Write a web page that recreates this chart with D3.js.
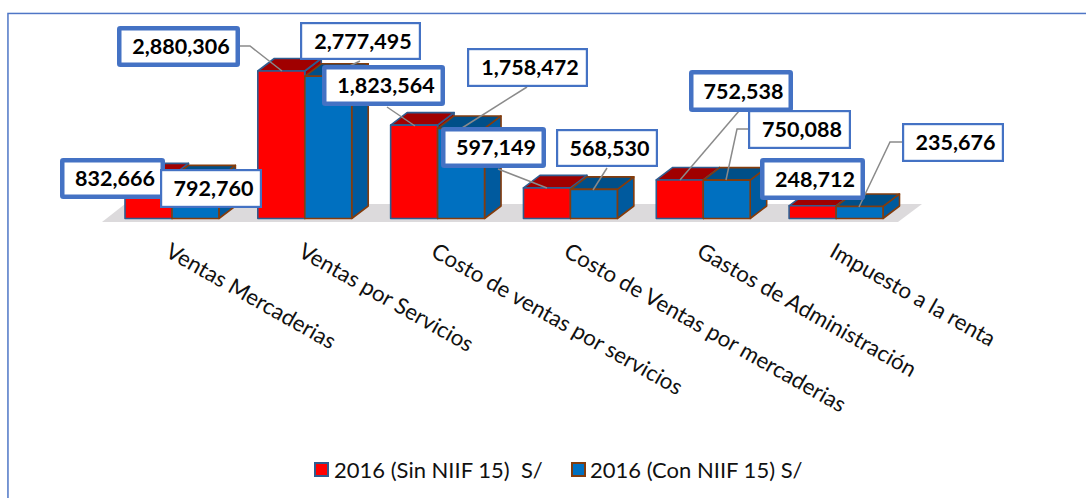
<!DOCTYPE html>
<html><head><meta charset="utf-8">
<script src="https://cdn.jsdelivr.net/npm/d3@7"></script>
<style>html,body{margin:0;padding:0;background:#fff}svg{display:block}text{font-family:Lato,"Open Sans",sans-serif}</style>
</head><body><div id="chart"></div>
<script>
const categories=["Ventas Mercaderias","Ventas por Servicios","Costo de ventas por servicios","Costo de Ventas por mercaderias","Gastos de Administración","Impuesto a la renta"];
const seriesNames=["2016 (Sin NIIF 15)  S/","2016 (Con NIIF 15) S/"];
const sinNiif=[832666,2880306,1823564,597149,752538,248712];
const conNiif=[792760,2777495,1758472,568530,750088,235676];

const W=1086,H=498,baseY=218.5,dx=16.5,dy=-12.5;
const svg=d3.select("#chart").append("svg").attr("width",W).attr("height",H);
svg.append("rect").attr("x",8.5).attr("y",14).attr("width",1100).attr("height",H).attr("fill","#fff").attr("stroke","#b9cdec").attr("stroke-width",2.6);
svg.append("rect").attr("x",8).attr("y",13.5).attr("width",1100).attr("height",H).attr("fill","#fff").attr("stroke","#4f76c6").attr("stroke-width",1.4);

const x0=d3.scaleBand().domain(categories).range([125,883]).paddingInner(0.293).paddingOuter(0);
const x1=d3.scaleBand().domain([0,1]).range([0,x0.bandwidth()]);
const y=d3.scaleLinear().domain([0,2880306]).range([baseY,71]);

// floor
const fl=x0(categories[0])-23, fr=x0(categories[5])+x0.bandwidth()+15;
svg.append("path").attr("d",`M${fl},222L${fl+23},204L${fr+24},204L${fr},222Z`).attr("fill","#dcdadc");

const styles=[{front:"#ff0000",top:"#a00000",side:"#a00000",edge:"#2f5c8f"},{front:"#0070c0",top:"#004f88",side:"#005a9e",edge:"#843c0c"}];
const rows=categories.map((c,i)=>[sinNiif[i],conNiif[i]]);
const g=svg.append("g");
categories.forEach((c,i)=>{
  [0,1].forEach(s=>{
    const v=rows[i][s],st=styles[s],xa=x0(c)+x1(s),w=x1.bandwidth(),t=y(v),b=y(0);
    const a=g.append("g").attr("stroke",st.edge).attr("stroke-width",1.6).attr("stroke-linejoin","round");
    a.append("path").attr("d",`M${xa+w},${b}L${xa+w+dx},${b+dy}L${xa+w+dx},${t+dy}L${xa+w},${t}Z`).attr("fill",st.side);
    a.append("path").attr("d",`M${xa},${t}L${xa+dx},${t+dy}L${xa+w+dx},${t+dy}L${xa+w},${t}Z`).attr("fill",st.top);
    a.append("rect").attr("x",xa).attr("y",t).attr("width",w).attr("height",b-t).attr("fill",st.front);
  });
});

// callout layout: [series, category, box x0,y0,x1,y1, leader points]
const callouts=[
 [0,1,117,26,240,67,[[240,46],[250,46],[282,71]]],
 [0,0,60,158,165,199,[]],
 [1,0,160,169,262,208,[]],
 [1,1,300,22,421,60,[[360,61],[329,76]]],
 [0,2,322,65,445,106,[[387,107],[415,126]]],
 [1,2,467,48,588,87,[[527,87],[462,128]]],
 [0,3,441,127,546,168,[[498,169],[547,188]]],
 [1,3,556,129,658,167,[[607,168],[593,190]]],
 [0,4,689,70,793,112,[[739,111],[680,180]]],
 [1,4,748,110,851,149,[[748,129],[737,129],[726,180]]],
 [0,5,760,158,865,200,[]],
 [1,5,902,123,1004,162,[[902,142],[890,142],[859,207]]]
];
const line=d3.line();
callouts.forEach(c=>{ if(c[6].length) svg.append("path").attr("d",line(c[6])).attr("fill","none").attr("stroke","#8a8a8a").attr("stroke-width",1.5); });
const fmt=d3.format(",");
callouts.forEach(c=>{
  const sw=c[0]===0?4.5:2.2,v=rows[c[1]][c[0]];
  svg.append("rect").attr("x",c[2]+sw/2).attr("y",c[3]+sw/2).attr("width",c[4]-c[2]-sw).attr("height",c[5]-c[3]-sw)
    .attr("fill","#fff").attr("stroke","#4472c4").attr("stroke-width",sw).attr("rx",c[0]===0?1:0);
  svg.append("text").attr("x",(c[2]+c[4])/2+2.5).attr("y",(c[3]+c[5])/2+7.5).attr("text-anchor","middle")
    .attr("font-size",21.5).attr("font-weight",700).attr("fill","#000").text(fmt(v));
});

// category labels
categories.forEach(c=>{
  const lx=x0(c)+x0.bandwidth()/2-4;
  svg.append("text").attr("transform",`translate(${lx},${249}) rotate(29.5)`).attr("font-size",22.2).attr("fill","#111").attr("dy","0.35em").text(c);
});

// legend
const legendX=[314,571],textX=[334,590];
seriesNames.forEach((n,i)=>{
  svg.append("rect").attr("x",legendX[i]+1).attr("y",463).attr("width",13).attr("height",13).attr("fill",styles[i].front).attr("stroke",styles[i].edge).attr("stroke-width",2);
  svg.append("text").attr("x",textX[i]).attr("y",478).attr("font-size",22).attr("fill","#111").style("white-space","pre").text(n);
});
</script></body></html>
